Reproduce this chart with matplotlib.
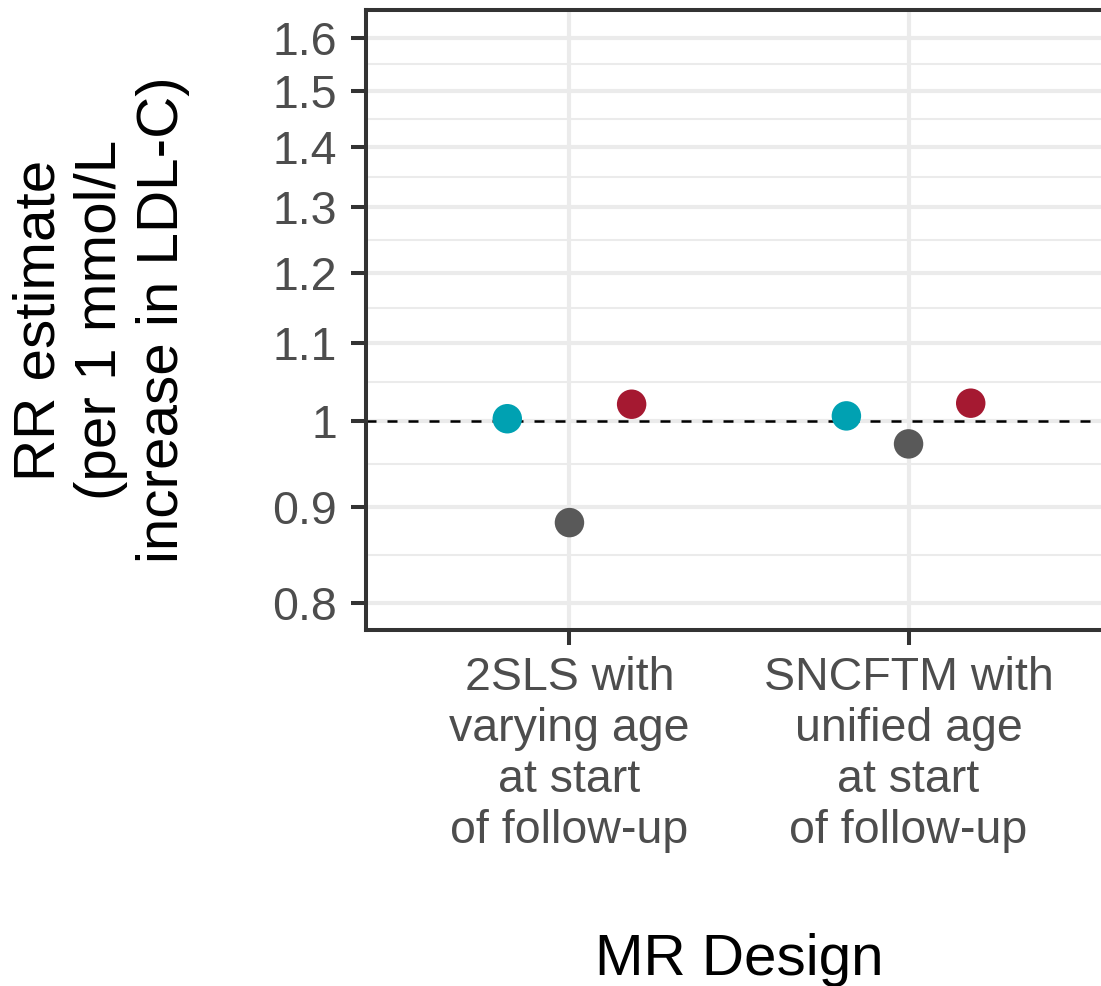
import numpy as np
import matplotlib
matplotlib.use("Agg")
import matplotlib.pyplot as plt

# data (RR on a log axis)
designs = ["2SLS with\nvarying age\nat start\nof follow-up",
           "SNCFTM with\nunified age\nat start\nof follow-up"]
group_a = [1.003, 1.0065]   # teal
group_b = [0.883, 0.9725]   # grey
group_c = [1.021, 1.0223]   # red
y_ticks = [0.8, 0.9, 1.0, 1.1, 1.2, 1.3, 1.4, 1.5, 1.6]
y_tick_labels = ["0.8", "0.9", "1", "1.1", "1.2", "1.3", "1.4", "1.5", "1.6"]

colors = ["#00A1B2", "#595959", "#A51931"]
offsets = [-0.55 / 3, 0.0, 0.55 / 3]

plt.rcParams["font.family"] = ["Liberation Sans", "DejaVu Sans"]

W, H = 1101, 986
fig = plt.figure(figsize=(W / 100, H / 100), dpi=100)
ax = fig.add_axes([366 / W, 1 - 630 / H, (W - 366) / W + 0.01, 620 / H])

x = np.arange(1, len(designs) + 1)

# grid lines (ggplot style, minor breaks at log midpoints)
minor = np.sqrt(np.array(y_ticks[:-1]) * np.array(y_ticks[1:]))
for m in minor:
    ax.axhline(m, color="#EBEBEB", lw=1.5, zorder=0)
for t in y_ticks:
    ax.axhline(t, color="#EBEBEB", lw=3.0, zorder=0)
for xi in x:
    ax.axvline(xi, color="#EBEBEB", lw=3.0, zorder=0)

ax.axhline(1.0, color="black", lw=1.8, dashes=(4, 4.4), zorder=1)

for vals, col, off in zip([group_a, group_b, group_c], colors, offsets):
    ax.scatter(x + off, vals, s=450, color=col, edgecolors="none", zorder=3)

ax.set_yscale("log")
ax.set_ylim(0.774, 1.656)
ax.set_xlim(0.4, 2.6)
ax.yaxis.set_major_locator(matplotlib.ticker.FixedLocator(y_ticks))
ax.yaxis.set_major_formatter(matplotlib.ticker.FixedFormatter(y_tick_labels))
ax.yaxis.set_minor_locator(matplotlib.ticker.NullLocator())
ax.set_xticks(x)
ax.set_xticklabels(designs, linespacing=1.2)

for side in ["left", "bottom", "top"]:
    ax.spines[side].set_color("#333333")
    ax.spines[side].set_linewidth(2.9)
ax.spines["right"].set_visible(False)

ax.tick_params(axis="both", length=10.8, width=2.9, color="#333333",
               labelcolor="#4D4D4D", labelsize=33.5)
ax.tick_params(axis="y", pad=10)
ax.tick_params(axis="x", pad=8)

ax.set_ylabel("RR estimate\n(per 1 mmol/L\nincrease in LDL-C)", fontsize=42,
              linespacing=1.18, va="center")
ax.yaxis.set_label_coords(-0.355, 0.5)
ax.set_xlabel("MR Design", fontsize=42, va="baseline")
ax.xaxis.set_label_coords(0.5, -(975 - 630) / 620)

fig.savefig("out.png", dpi=100)
